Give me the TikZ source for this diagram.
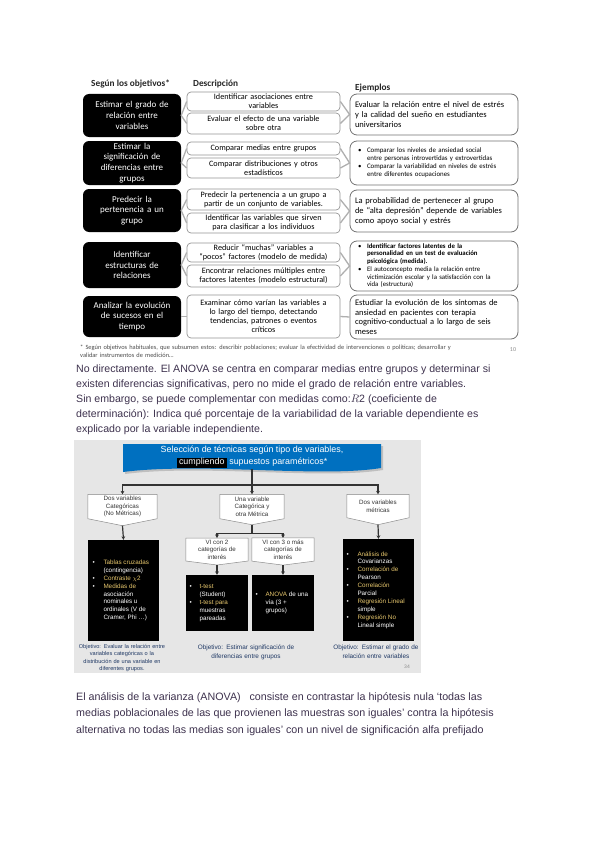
\documentclass[tikz,border=0pt]{standalone}
\usepackage{fontspec}
\usepackage{array}
\setmainfont{Liberation Sans}
\newfontfamily\carl{Carlito}
\usetikzlibrary{arrows.meta}
\definecolor{ptext}{RGB}{62,50,78}
\definecolor{bordgray}{RGB}{150,150,150}
\definecolor{congray}{RGB}{175,175,175}
\definecolor{bgray}{RGB}{230,230,230}
\definecolor{hblue}{RGB}{0,112,192}
\definecolor{gold}{RGB}{232,200,110}
\definecolor{navy}{RGB}{31,56,100}
\newcommand\pentout[2]{%
  \fill[white] (#1.south west) -- ([yshift=-#2]#1.south) -- (#1.south east) -- cycle;
  \draw[pentline] (#1.north west) -- (#1.north east) -- (#1.south east) -- ([yshift=-#2]#1.south) -- (#1.south west) -- cycle;
  \coordinate (#1tip) at ([yshift=-#2]#1.south);}
\newcolumntype{L}[1]{>{\raggedright\arraybackslash}p{#1}}
\begin{document}
\begin{tikzpicture}[x=1pt,y=-1pt,
  hdrtxt/.style={font=\carl\bfseries\fontsize{9.3}{10}\selectfont, text=black!85, anchor=west, inner sep=0pt},
  bbox/.style={fill=black, rounded corners=6pt, text=white, align=center, font=\carl\fontsize{9}{10.8}\selectfont, minimum width=98pt, text width=94pt, inner sep=0pt},
  dbox/.style={draw=bordgray, fill=white, line width=0.7pt, rounded corners=4pt, align=center, font=\carl\fontsize{8.2}{9}\selectfont, minimum width=153pt, text width=150pt, inner sep=0.6pt},
  ebox/.style={draw=black!55, fill=white, line width=0.8pt, rounded corners=7pt, align=left, font=\carl\fontsize{8.5}{9.8}\selectfont, minimum width=168pt, text width=158pt, inner sep=1pt},
  conn/.style={draw=congray, line width=1.3pt},
  para/.style={anchor=north west, inner sep=0pt, text=ptext, align=left, font=\fontsize{10.6}{15}\selectfont},
  pnode/.style={fill=white, inner xsep=0pt, inner ysep=1.5pt, align=center, font=\fontsize{6.2}{7.6}\selectfont, text=black!80},
  pentline/.style={draw=black!45, line width=0.5pt},
  dline/.style={draw=black!80, line width=1.2pt},
  darr/.style={dline, -{Stealth[length=3.5pt,width=3.8pt]}},
  blk/.style={fill=black, text=white, inner sep=0pt, font=\fontsize{6.3}{7.9}\selectfont, align=left},
  capt/.style={text=navy, align=center, inner sep=0pt, font=\fontsize{6.4}{9}\selectfont}]
\path[use as bounding box, fill=white] (0,0) rectangle (599,848);

% ---------- top diagram ----------
\node[hdrtxt] (h1) at (91,84) {Según los objetivos*};
\node[hdrtxt] (h2) at (193,84) {Descripción};
\node[hdrtxt] (h3) at (355,88) {Ejemplos};

\node[bbox, minimum height=43pt] (b1) at (132,115.5) {Estimar el grado de\\relación entre\\variables};
\node[bbox, minimum height=44pt] (b2) at (132,163) {Estimar la\\significación de\\diferencias entre\\grupos};
\node[bbox, minimum height=43pt] (b3) at (132,210.5) {Predecir la\\pertenencia a un\\grupo};
\node[bbox, minimum height=46pt] (b4) at (132,265) {Identificar\\estructuras de\\relaciones};
\node[bbox, minimum height=41pt] (b5) at (132,316.5) {Analizar la evolución\\de sucesos en el\\tiempo};

\node[dbox, minimum height=19pt] (d1a) at (263.5,101.5) {Identificar asociaciones entre\\variables};
\node[dbox, minimum height=21pt] (d1b) at (263.5,123.5) {Evaluar el efecto de una variable\\sobre otra};
\node[dbox, minimum height=13pt] (d2a) at (263.5,148.5) {Comparar medias entre grupos};
\node[dbox, minimum height=20pt] (d2b) at (263.5,168) {Comparar distribuciones y otros\\estadísticos};
\node[dbox, minimum height=21pt] (d3a) at (263.5,199.5) {Predecir la pertenencia a un grupo a\\partir de un conjunto de variables.};
\node[dbox, minimum height=20pt] (d3b) at (263.5,223) {Identificar las variables que sirven\\para clasificar a los individuos};
\node[dbox, minimum height=19pt] (d4a) at (263.5,252.5) {Reducir “muchas” variables a\\“pocos” factores (modelo de medida)};
\node[dbox, minimum height=22pt] (d4b) at (263.5,276) {Encontrar relaciones múltiples entre\\factores latentes (modelo estructural)};
\node[dbox, minimum height=43pt] (d5) at (263.5,316.5) {Examinar cómo varían las variables a\\lo largo del tiempo, detectando\\tendencias, patrones o eventos\\críticos};

\node[ebox, minimum height=41pt] (e1) at (434,114.5) {Evaluar la relación entre el nivel de estrés\\y la calidad del sueño en estudiantes\\universitarios};
\node[ebox, minimum height=44pt, font=\carl\fontsize{6.9}{8}\selectfont] (e2) at (434,163) {%
\begin{tabular}{@{\hspace{3pt}}L{9pt}@{}L{148pt}@{}}
\textbullet & Comparar los niveles de ansiedad social\newline entre personas introvertidas y extrovertidas\\
\textbullet & Comparar la variabilidad en niveles de estrés\newline entre diferentes ocupaciones
\end{tabular}};
\node[ebox, minimum height=42pt] (e3) at (434,211) {La probabilidad de pertenecer al grupo\\de “alta depresión” depende de variables\\como apoyo social y estrés};
\node[ebox, minimum height=50pt, font=\carl\fontsize{6.8}{7.7}\selectfont] (e4) at (434,266) {%
\begin{tabular}{@{\hspace{3pt}}L{9pt}@{}L{148pt}@{}}
\textbullet & \textbf{Identificar factores latentes de la\newline personalidad en un test de evaluación\newline psicológica (medida).}\\
\textbullet & El autoconcepto media la relación entre\newline victimización escolar y la satisfacción con la\newline vida (estructura)
\end{tabular}};
\node[ebox, minimum height=44pt] (e5) at (434,317) {Estudiar la evolución de los síntomas de\\ansiedad en pacientes con terapia\\cognitivo-conductual a lo largo de seis\\meses};

\draw[conn] (d1a.west) -- (b1.east) -- (d1b.west);
\draw[conn] (d2a.west) -- (b2.east) -- (d2b.west);
\draw[conn] (d3a.west) -- (b3.east) -- (d3b.west);
\draw[conn] (d4a.west) -- (b4.east) -- (d4b.west);
\draw[conn] (b5.east) -- (d5.west);
\draw[conn] (d1a.east) -- (e1.west) -- (d1b.east);
\draw[conn] (d2a.east) -- (e2.west) -- (d2b.east);
\draw[conn] (d3a.east) -- (e3.west) -- (d3b.east);
\draw[conn] (d4a.east) -- (e4.west) -- (d4b.east);
\draw[conn] (d5.east) -- (e5.west);

\node[anchor=north west, inner sep=0pt, text width=430pt, align=left, text=black!70, font=\carl\fontsize{6.4}{7.4}\selectfont] (fn) at (80,345) {* Según objetivos habituales, que subsumen estos: describir poblaciones; evaluar la efectividad de intervenciones o políticas; desarrollar y\\validar instrumentos de medición…};
\node[inner sep=0pt, text=black!45, font=\carl\fontsize{6}{7}\selectfont] (pg10) at (513,350) {10};

% ---------- paragraph 1 ----------
\node[para] (p1) at (76,365) {No directamente. El ANOVA se centra en comparar medias entre grupos y determinar si\\
existen diferencias significativas, pero no mide el grado de relación entre variables.\\
Sin embargo, se puede complementar con medidas como:$R$2 (coeficiente de\\
determinación): Indica qué porcentaje de la variabilidad de la variable dependiente es\\
explicado por la variable independiente.};

% ---------- second diagram ----------
\fill[bgray] (74,440) rectangle (421,673);
\fill[black!25] (125,446) -- (383,446) -- (383,470) .. controls (322,480) and (202,464) .. (125,474) -- cycle;
\fill[hblue] (123,444) -- (381,444) -- (381,468) .. controls (320,478) and (200,462) .. (123,472) -- cycle;
\node[inner sep=0pt, text=white, align=center, font=\fontsize{8.9}{12}\selectfont] (hdr) at (252,457) {Selección de técnicas según tipo de variables,\\{\setlength{\fboxsep}{0.8pt}\colorbox{black}{\,cumpliendo\,}} supuestos paramétricos*};
\coordinate (hb) at (252,469);
\coordinate (j1) at (252,485);

\node[pnode, minimum width=69pt, minimum height=24pt] (s1) at (122.5,506.5) {Dos variables\\Categóricas\\(No Métricas)};
\pentout{s1}{7pt}
\node[pnode, minimum width=64pt, minimum height=24pt] (s2) at (252,506.5) {Una variable\\Categórica y\\otra Métrica};
\pentout{s2}{6pt}
\node[pnode, minimum width=62pt, minimum height=23pt] (s3) at (378,506) {Dos variables\\métricas};
\pentout{s3}{7pt}
\node[pnode, minimum width=62pt, minimum height=22pt] (s2a) at (217,549.5) {VI con 2\\categorías de\\interés};
\pentout{s2a}{4pt}
\node[pnode, minimum width=62pt, minimum height=22pt] (s2b) at (283,549.5) {VI con 3 o más\\categorías de\\interés};
\pentout{s2b}{4pt}
\coordinate (j2) at (252,533.5);

\draw[dline] (hb) -- (j1);
\draw[darr] (j1) -| (s1.north);
\draw[darr] (j1) -- (s2.north);
\draw[darr] (j1) -| (s3.north);
\draw[dline] (s2tip) -- (j2);
\draw[darr] (j2) -| (s2a.north);
\draw[darr] (j2) -| (s2b.north);

\node[blk, minimum width=71pt, minimum height=101pt] (bl) at (123.5,590.5) {%
\begin{tabular}{@{\hspace{3pt}}L{11pt}@{}L{54pt}@{}}
\textbullet & \textcolor{gold}{Tablas cruzadas}\newline (contingencia)\\
\textbullet & \textcolor{gold}{Contraste $\chi$2}\\
\textbullet & \textcolor{gold}{Medidas de}\newline asociación\newline nominales u\newline ordinales (V de\newline Cramer, Phi …)
\end{tabular}};
\node[blk, minimum width=62pt, minimum height=56pt] (bm1) at (217,603) {%
\begin{tabular}{@{\hspace{3pt}}L{10pt}@{}L{48pt}@{}}
\textbullet & \textcolor{gold}{t-test}\newline (Student)\\
\textbullet & \textcolor{gold}{t-test para}\newline muestras\newline pareadas
\end{tabular}};
\node[blk, minimum width=62pt, minimum height=56pt] (bm2) at (283,603) {%
\begin{tabular}{@{\hspace{3pt}}L{10pt}@{}L{48pt}@{}}
\textbullet & \textcolor{gold}{ANOVA} de una\newline vía (3 +\newline grupos)
\end{tabular}};
\node[blk, minimum width=71pt, minimum height=102pt] (br) at (378.5,590) {%
\begin{tabular}{@{\hspace{3pt}}L{11pt}@{}L{56pt}@{}}
\textbullet & \textcolor{gold}{Análisis de}\newline Covarianzas\\
\textbullet & \textcolor{gold}{Correlación de}\newline Pearson\\
\textbullet & \textcolor{gold}{Correlación}\newline Parcial\\
\textbullet & \textcolor{gold}{Regresión Lineal}\newline simple\\
\textbullet & \textcolor{gold}{Regresión No}\newline Lineal simple
\end{tabular}};

\draw[darr] (s1tip) -- (bl.north);
\draw[darr] (s2atip) -- (bm1.north);
\draw[darr] (s2btip) -- (bm2.north);
\draw[darr] (s3tip) -- (br.north);

\node[capt, text width=96pt, font=\fontsize{5.6}{7.3}\selectfont] (c1) at (122,658) {Objetivo: Evaluar la relación entre\\variables categóricas o la\\distribución de una variable en\\diferentes grupos.};
\node[capt, text width=120pt] (c2) at (246,652) {Objetivo: Estimar significación de\\diferencias entre grupos};
\node[capt, text width=96pt] (c3) at (376,651.5) {Objetivo: Estimar el grado de\\relación entre variables};
\node[inner sep=0pt, text=black!45, font=\fontsize{5}{6}\selectfont] (pg34) at (407,667) {34};

% ---------- paragraph 2 ----------
\node[para, font=\fontsize{10.7}{16.8}\selectfont] (p2) at (76,692) {El análisis de la varianza (ANOVA) \ \ consiste en contrastar la hipótesis nula ‘todas las\\
medias poblacionales de las que provienen las muestras son iguales’ contra la hipótesis\\
alternativa no todas las medias son iguales’ con un nivel de significación alfa prefijado};
\end{tikzpicture}
\end{document}
